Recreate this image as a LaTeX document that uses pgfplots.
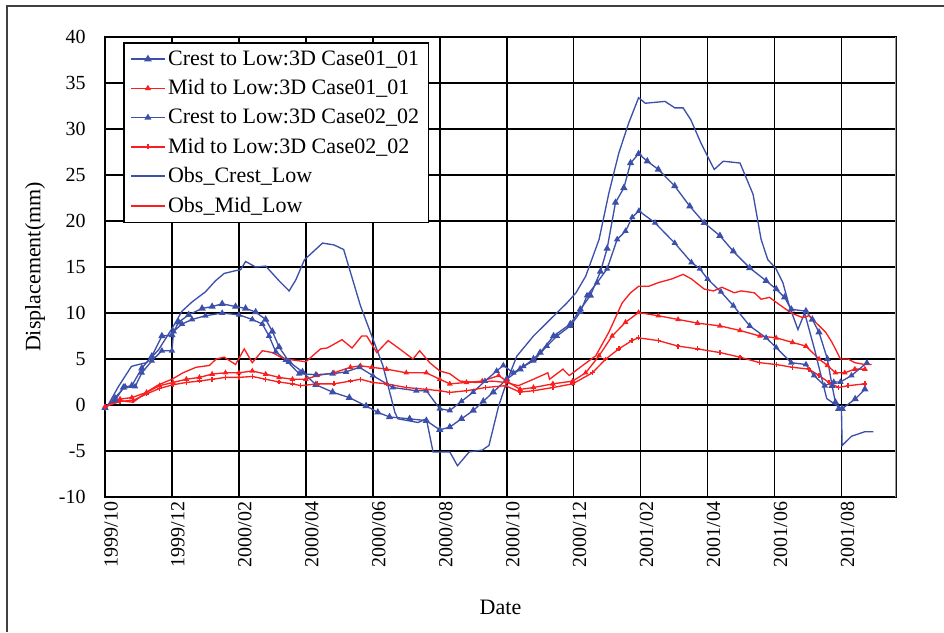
\documentclass[border=0pt]{standalone}
\usepackage{pgfplots}
\pgfplotsset{compat=1.18}
\usepackage{fontspec}
\setmainfont{Liberation Serif}
\definecolor{cblue}{RGB}{60,80,170}
\definecolor{cred}{RGB}{250,30,30}
\begin{document}
\begin{tikzpicture}
\useasboundingbox (0,0) rectangle (708pt,474pt);
\draw[line width=1.5pt, black!75] (5.6pt,0) -- (5.6pt,469.5pt) -- (708pt,469.5pt);
\begin{axis}[
  at={(78.75pt,101.25pt)}, anchor=south west,
  scale only axis, width=593.25pt, height=345pt,
  xmin=0, xmax=23.63, ymin=-10, ymax=40,
  xtick={0,2,4,6,8,10,12,14,16,18,20,22},
  xticklabels={1999/10,1999/12,2000/02,2000/04,2000/06,2000/08,2000/10,2000/12,2001/02,2001/04,2001/06,2001/08},
  ytick={-10,-5,0,5,10,15,20,25,30,35,40},
  yticklabels={-10,-5,0,5,10,15,20,25,30,35,40},
  major tick length=0pt,
  grid=major,
  major grid style={black, line width=1.2pt},
  axis line style={black, line width=1.2pt},
  tick label style={font=\fontsize{15}{18}\selectfont},
  yticklabel style={anchor=east, xshift=-11pt},
  xticklabel style={rotate=90, anchor=east, yshift=-4.5pt},
  xlabel={Date}, ylabel={Displacement(mm)},
  label style={font=\fontsize{16.5}{19}\selectfont},
  xlabel style={at={(axis description cs:0.5,-0.239)}, anchor=center},
  ylabel style={at={(axis description cs:-0.0885,0.5)}, anchor=center, rotate=0},
  legend style={at={(0.0228,0.989)}, anchor=north west, draw=black, line width=1.1pt,
    font=\fontsize{16.5}{19}\selectfont, row sep=5.2pt, inner xsep=5pt, inner ysep=4pt,
    fill=white},
  legend cell align=left,
  legend image code/.code={\draw[#1, line width=1.2pt, mark repeat=2, mark phase=2] plot coordinates {(0cm,0cm) (0.44cm,0cm) (0.88cm,0cm)};},
]
% Crest to Low:3D Case01_01
\addplot[color=cblue, line width=1pt, mark=triangle*, mark size=2.2pt, mark options={solid}] coordinates {
(0,-0.3)(0.3,0.5)(0.55,1.9)(0.8,2.1)(1.1,4.0)(1.4,5.3)(1.7,7.5)(2.0,7.6)(2.2,9.0)(2.5,9.8)(2.9,10.5)(3.2,10.7)(3.5,11.0)(3.9,10.7)(4.2,10.5)(4.5,10.1)(4.8,9.3)(5.0,8.0)(5.2,6.3)(5.5,4.7)(5.9,3.6)(6.3,2.2)(6.8,1.4)(7.3,0.8)(7.8,-0.1)(8.15,-0.8)(8.5,-1.3)(9.1,-1.5)(9.6,-1.7)(10.0,-2.7)(10.3,-2.4)(10.65,-1.5)(11.0,-0.6)(11.3,0.4)(11.6,1.4)(12.0,2.8)(12.4,3.9)(12.8,5.0)(13.0,5.7)(13.4,7.5)(13.9,8.8)(14.2,10.4)(14.5,11.9)(14.8,14.5)(15.0,17.0)(15.25,22.0)(15.5,23.6)(15.7,26.3)(15.94,27.3)(16.2,26.5)(16.53,25.6)(17.02,23.8)(17.47,21.6)(17.9,19.8)(18.37,18.4)(18.77,16.7)(19.26,14.9)(19.75,13.5)(20.05,12.6)(20.3,11.7)(20.5,10.4)(20.94,10.2)(21.13,9.3)(21.33,7.9)(21.58,5.0)(21.72,2.1)(21.82,0.3)(21.92,-0.4)(22.02,-0.4)(22.41,0.65)(22.7,1.7)
};
\addlegendentry{Crest to Low:3D Case01\_01}
% Mid to Low:3D Case01_01
\addplot[color=cred, line width=1pt, mark=triangle*, mark size=1.5pt, mark options={solid}] coordinates {
(0,-0.2)(0.45,0.65)(0.8,0.8)(1.24,1.37)(1.63,2.1)(2.03,2.45)(2.43,2.8)(2.82,3.0)(3.2,3.36)(3.6,3.5)(4.0,3.5)(4.4,3.7)(4.8,3.36)(5.2,3.0)(5.6,2.8)(6.0,2.8)(6.34,3.2)(6.84,3.5)(7.33,4.1)(7.63,4.26)(7.97,4.1)(8.41,3.9)(9.0,3.5)(9.6,3.5)(10.0,2.8)(10.3,2.3)(10.8,2.45)(11.27,2.6)(11.76,3.2)(12.0,2.6)(12.4,1.7)(12.8,1.9)(13.38,2.3)(13.97,2.6)(14.36,3.5)(14.76,5.35)(15.15,7.5)(15.55,9.0)(15.94,10.05)(16.53,9.7)(17.12,9.3)(17.7,8.9)(18.37,8.6)(18.97,8.1)(19.56,7.5)(20.05,7.3)(20.54,6.8)(20.94,6.4)(21.33,5.0)(21.58,4.3)(21.82,3.5)(22.1,3.5)(22.4,3.9)(22.7,3.9)
};
\addlegendentry{Mid to Low:3D Case01\_01}
% Crest to Low:3D Case02_02
\addplot[color=cblue, line width=1pt, mark=triangle*, mark size=1.8pt, mark options={solid}] coordinates {
(0,-0.3)(0.3,0.8)(0.6,2.0)(0.9,2.0)(1.1,3.5)(1.4,4.8)(1.7,5.9)(2.0,5.9)(2.05,8.0)(2.3,8.8)(2.6,9.3)(3.0,9.7)(3.5,10.0)(4.0,9.8)(4.4,9.3)(4.7,8.8)(4.9,7.5)(5.1,5.8)(5.4,4.9)(5.8,3.4)(6.3,3.3)(6.8,3.4)(7.2,3.6)(7.6,4.1)(8.0,3.2)(8.6,1.9)(9.3,1.55)(9.6,1.55)(10.0,-0.4)(10.3,-0.6)(10.65,0.4)(11.0,1.4)(11.35,2.6)(11.7,3.7)(11.9,4.3)(12.2,3.5)(12.5,4.2)(12.8,4.8)(13.2,6.4)(13.5,7.5)(13.9,8.6)(14.2,10.1)(14.4,11.9)(14.7,13.3)(15.0,14.8)(15.3,18.0)(15.55,18.9)(15.75,20.4)(15.95,21.1)(16.43,19.8)(17.02,17.6)(17.52,15.5)(17.77,14.8)(18.0,13.7)(18.4,12.3)(18.77,10.8)(19.26,8.6)(19.75,7.3)(20.05,6.25)(20.5,4.6)(20.94,4.4)(21.18,3.2)(21.5,2.1)(21.77,2.5)(21.97,2.5)(22.3,3.2)(22.76,4.6)
};
\addlegendentry{Crest to Low:3D Case02\_02}
% Mid to Low:3D Case02_02
\addplot[color=cred, line width=1pt, mark=+, mark size=1.8pt, mark options={solid}] coordinates {
(0,-0.2)(0.45,0.4)(0.84,0.5)(1.24,1.2)(1.63,1.8)(2.03,2.2)(2.43,2.45)(2.82,2.6)(3.2,2.8)(3.6,3.0)(4.0,3.0)(4.4,3.1)(4.8,2.8)(5.2,2.5)(5.6,2.3)(5.85,2.1)(6.34,2.3)(6.84,2.3)(7.33,2.6)(7.63,2.8)(8.0,2.45)(8.4,2.3)(9.0,1.9)(9.6,1.7)(10.0,1.55)(10.3,1.37)(10.8,1.55)(11.37,1.9)(11.96,2.1)(12.4,1.4)(12.8,1.55)(13.38,1.9)(13.97,2.3)(14.56,3.5)(14.96,5.0)(15.35,6.1)(15.74,7.0)(15.94,7.3)(16.53,7.0)(17.12,6.4)(17.7,6.1)(18.37,5.7)(18.97,5.2)(19.56,4.6)(20.05,4.4)(20.54,4.1)(21.03,3.9)(21.33,3.2)(21.63,2.45)(21.92,1.9)(22.2,2.1)(22.7,2.3)
};
\addlegendentry{Mid to Low:3D Case02\_02}
% Obs_Crest_Low
\addplot[color=cblue, line width=1pt, mark=none] coordinates {
(0,-0.6)(0.4,2.0)(0.79,4.2)(1.0,4.4)(1.24,4.6)(1.6,6.0)(2.0,8.3)(2.3,10.2)(2.6,11.2)(3.0,12.3)(3.3,13.5)(3.56,14.3)(3.9,14.6)(4.05,14.7)(4.2,15.6)(4.5,15.0)(4.8,15.1)(5.2,13.5)(5.5,12.4)(5.7,13.6)(5.96,15.8)(6.5,17.6)(6.84,17.4)(7.13,16.9)(7.63,10.8)(7.97,7.5)(8.3,4.3)(8.66,-0.8)(8.75,-1.5)(9.35,-1.9)(9.6,-1.5)(9.8,-5.1)(10.3,-5.1)(10.53,-6.6)(10.88,-5.1)(11.27,-4.9)(11.47,-4.4)(11.76,-0.1)(12.0,2.5)(12.3,5.3)(12.8,7.5)(13.3,9.3)(13.8,11.1)(14.07,12.2)(14.36,14.0)(14.76,18.0)(15.05,23.0)(15.35,27.4)(15.65,30.7)(15.94,33.4)(16.14,32.8)(16.73,33.0)(17.02,32.3)(17.27,32.3)(17.5,31.0)(17.8,28.5)(18.2,25.6)(18.47,26.5)(18.97,26.3)(19.36,22.9)(19.6,18.0)(19.8,15.8)(20.03,14.9)(20.25,13.3)(20.44,10.8)(20.7,8.2)(20.9,10.0)(21.2,6.0)(21.56,0.7)(22.0,-0.4)(22.02,-4.4)(22.3,-3.4)(22.7,-2.9)(22.95,-2.9)
};
\addlegendentry{Obs\_Crest\_Low}
% Obs_Mid_Low
\addplot[color=cred, line width=1pt, mark=none] coordinates {
(0,-0.25)(0.35,0.5)(0.84,0.3)(1.24,1.4)(1.6,2.2)(2.0,2.8)(2.33,3.5)(2.72,4.1)(3.12,4.3)(3.32,5.0)(3.56,5.2)(3.9,4.4)(4.16,6.1)(4.4,4.6)(4.7,5.9)(5.0,5.7)(5.3,5.1)(5.6,4.9)(6.0,4.7)(6.44,6.1)(6.64,6.2)(7.08,7.1)(7.38,6.2)(7.67,7.5)(7.82,7.5)(8.12,5.7)(8.46,7.0)(8.8,6.1)(9.2,5.0)(9.4,5.9)(9.7,4.6)(10.0,3.7)(10.3,3.4)(10.6,2.6)(11.07,2.45)(11.57,2.6)(11.96,2.45)(12.35,2.1)(12.8,2.8)(13.23,3.5)(13.28,2.8)(13.68,3.9)(13.87,3.2)(14.27,4.3)(14.66,5.35)(15.05,7.9)(15.45,11.1)(15.7,12.2)(15.94,12.9)(16.24,12.9)(16.53,13.3)(16.93,13.7)(17.27,14.2)(17.52,13.7)(17.9,12.6)(18.18,12.4)(18.43,12.8)(18.8,12.2)(19.0,12.4)(19.4,12.2)(19.6,11.5)(19.85,11.7)(20.15,10.9)(20.5,10.0)(20.84,9.5)(21.03,9.7)(21.53,7.9)(21.72,6.8)(21.97,5.0)(22.2,5.0)(22.4,4.6)(22.7,4.4)(22.9,4.4)
};
\addlegendentry{Obs\_Mid\_Low}
\draw[black!40, line width=1.5pt] (rel axis cs:1,0) -- (rel axis cs:1,1);
\end{axis}
\end{tikzpicture}
\end{document}
